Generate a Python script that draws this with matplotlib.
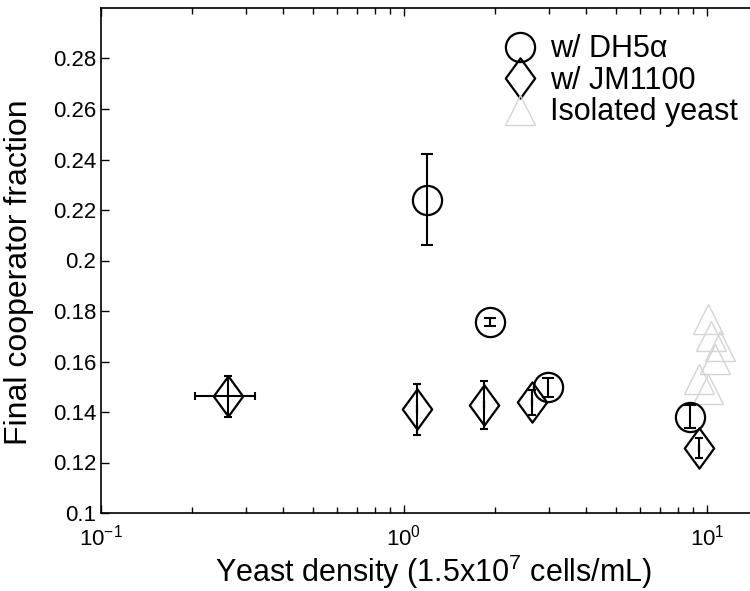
import matplotlib
matplotlib.use("Agg")
import matplotlib.pyplot as plt
import numpy as np
from matplotlib.lines import Line2D
from matplotlib.path import Path
from matplotlib.ticker import FixedLocator, FuncFormatter, LogLocator, NullFormatter

plt.rcParams["font.family"] = ["Liberation Sans", "DejaVu Sans"]
plt.rcParams["mathtext.fontset"] = "custom"
plt.rcParams["mathtext.rm"] = "Liberation Sans"
plt.rcParams["mathtext.it"] = "Liberation Sans:italic"

# w/ DH5alpha (circles)
dh5_x = [1.19, 1.92, 2.98, 8.8]
dh5_y = [0.224, 0.1757, 0.1498, 0.1382]
dh5_err = [0.018, 0.0015, 0.0038, 0.0045]

# w/ JM1100 (diamonds)
jm_x = [0.262, 1.10, 1.84, 2.64, 9.42]
jm_y = [0.1462, 0.141, 0.1426, 0.1438, 0.1259]
jm_err = [0.008, 0.010, 0.0095, 0.005, 0.004]
jm_xerr_lo = [0.058, 0.0, 0.0, 0.0, 0.0]
jm_xerr_hi = [0.060, 0.0, 0.0, 0.0, 0.0]

# isolated yeast (light triangles)
iso_x = [10.1, 10.3, 11.0, 10.6, 9.4, 10.1]
iso_y = [0.177, 0.170, 0.166, 0.161, 0.153, 0.149]

x_ticks = [0.1, 1, 10]
y_ticks = [0.1, 0.12, 0.14, 0.16, 0.18, 0.2, 0.22, 0.24, 0.26, 0.28]

# MATLAB-like diamond: taller than wide
diamond = Path([(0, 1), (0.73, 0), (0, -1), (-0.73, 0), (0, 1)],
               [Path.MOVETO, Path.LINETO, Path.LINETO, Path.LINETO, Path.CLOSEPOLY])

fig = plt.figure(figsize=(7.5, 5.91), dpi=100)
ax = fig.add_axes([101 / 750, 78 / 591, 909 / 750, 505 / 591])

tri_color = "#d4d4d4"
ax.plot(iso_x, iso_y, linestyle="none", marker="^", markersize=21,
        markerfacecolor="none", markeredgecolor=tri_color, markeredgewidth=1.0)

ax.plot(jm_x, jm_y, linestyle="none", marker=diamond, markersize=29,
        markerfacecolor="none", markeredgecolor="black", markeredgewidth=1.6)
ax.errorbar(jm_x, jm_y, yerr=jm_err, xerr=[jm_xerr_lo, jm_xerr_hi], fmt="none",
            ecolor="black", elinewidth=1.5, capsize=3, capthick=1.5)

ax.plot(dh5_x, dh5_y, linestyle="none", marker="o", markersize=21,
        markerfacecolor="none", markeredgecolor="black", markeredgewidth=1.6)
ax.errorbar(dh5_x, dh5_y, yerr=dh5_err, fmt="none",
            ecolor="black", elinewidth=1.5, capsize=4, capthick=1.5)

ax.set_xscale("log")
ax.set_xlim(0.1, 100)
ax.set_ylim(0.1, 0.3)
ax.xaxis.set_major_locator(FixedLocator(x_ticks))
ax.xaxis.set_major_formatter(FuncFormatter(lambda v, p: r"$10^{%d}$" % round(np.log10(v))))
ax.xaxis.set_minor_locator(LogLocator(base=10, subs=np.arange(2, 10)))
ax.xaxis.set_minor_formatter(NullFormatter())
ax.yaxis.set_major_locator(FixedLocator(y_ticks))
ax.yaxis.set_major_formatter(FuncFormatter(lambda v, p: "%g" % round(v, 2)))

ax.tick_params(which="both", direction="in", top=True, right=True, labelsize=16, width=1)
ax.tick_params(which="major", length=6)
ax.tick_params(which="minor", length=4)
ax.tick_params(axis="x", pad=8)
for s in ax.spines.values():
    s.set_linewidth(1.2)

ax.set_xlabel(r"Yeast density (1.5x10$^7$ cells/mL)", fontsize=22, ha="left")
ax.xaxis.set_label_coords((215 - 101) / 909, -0.078)
ax.set_ylabel("Final cooperator fraction", fontsize=23)
ax.yaxis.set_label_coords((34 - 101) / 909, (513 - 272) / 505)

handles = [
    Line2D([], [], linestyle="none", marker="o", markersize=21, markerfacecolor="none",
           markeredgecolor="black", markeredgewidth=1.6),
    Line2D([], [], linestyle="none", marker=diamond, markersize=29, markerfacecolor="none",
           markeredgecolor="black", markeredgewidth=1.6),
    Line2D([], [], linestyle="none", marker="^", markersize=21, markerfacecolor="none",
           markeredgecolor=tri_color, markeredgewidth=1.0),
]
fig.legend(handles, ["w/ DH5α", "w/ JM1100", "Isolated yeast"],
           loc="upper left", bbox_to_anchor=(486 / 750, 1 - 22 / 591),
           frameon=False, fontsize=22, handlelength=1.4, handletextpad=0.3,
           labelspacing=0.05, borderaxespad=0)

fig.savefig("out.png", dpi=100)
